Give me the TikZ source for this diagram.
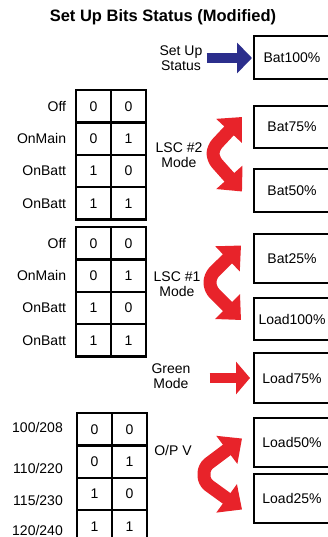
\documentclass[tikz,border=0pt]{standalone}
\usepackage{fontspec}
\setmainfont{Liberation Sans}
\usetikzlibrary{positioning,arrows.meta}
\definecolor{arrowred}{HTML}{E8232A}
\definecolor{arrowblue}{HTML}{2B2E8C}
\tikzset{
  txt/.style={font=\fontsize{14}{15}\selectfont, align=center, inner sep=1pt},
  statebox/.style={draw, line width=2pt, minimum width=76pt, minimum height=43pt, inner sep=0pt, font=\fontsize{14}{15}\selectfont},
  cell/.style={draw, line width=2.5pt, minimum width=35pt, minimum height=32.4pt, inner sep=0pt, font=\fontsize{14}{15}\selectfont},
  rowlbl/.style={txt, anchor=east},
  curlarrow/.style={draw=arrowred, line width=13pt, line join=round, rounded corners=6pt, {Triangle[width=34pt,length=19pt]}-{Triangle[width=34pt,length=19pt]}},
  straightred/.style={draw=arrowred, line width=10pt, -{Triangle[width=32pt,length=14pt]}},
  straightblue/.style={draw=arrowblue, line width=10pt, -{Triangle[width=30pt,length=15pt]}}
}
\begin{document}
\begin{tikzpicture}[x=1pt,y=-1pt]
  \useasboundingbox (0,0) rectangle (327,537);
  \node[font=\fontsize{16.5}{18}\selectfont\bfseries] (title) at (163,17) {Set Up Bits Status (Modified)};

  % status boxes
  \node[statebox] (bat100) at (292,58) {Bat100\%};
  \node[statebox, minimum height=42pt] (bat75) at (292,127) {Bat75\%};
  \node[statebox] (bat50) at (292,190.5) {Bat50\%};
  \node[statebox, minimum height=49pt] (bat25) at (292,258.5) {Bat25\%};
  \node[statebox, minimum height=42pt] (load100) at (292,319) {Load100\%};
  \node[statebox, minimum height=50pt] (load75) at (292,378) {Load75\%};
  \node[statebox, minimum height=49pt] (load50) at (292,442.5) {Load50\%};
  \node[statebox, minimum height=49pt] (load25) at (292,498.5) {Load25\%};

  % bit tables
  \foreach \tb/\ty/\tx in {1/90/76, 2/227/76, 3/413/77} {
    \foreach \r/\u/\v in {1/0/0, 2/0/1, 3/1/0, 4/1/1} {
      \node[cell] (t\tb r\r a) at (\tx+17.5, \ty+32.4*\r-16.2) {\u};
      \node[cell] (t\tb r\r b) at (\tx+52.5, \ty+32.4*\r-16.2) {\v};
    }
  }
  \node[rowlbl, left=7.5pt of t1r1a] (off1) {Off};
  \node[rowlbl, left=7.5pt of t1r2a] (onmain1) {OnMain};
  \node[rowlbl, left=7.5pt of t1r3a] (onbatt1) {OnBatt};
  \node[rowlbl, left=7.5pt of t1r4a] (onbatt1b) {OnBatt};
  \node[rowlbl, left=7.5pt of t2r1a] (off2) {Off};
  \node[rowlbl, left=7.5pt of t2r2a] (onmain2) {OnMain};
  \node[rowlbl, left=7.5pt of t2r3a] (onbatt2) {OnBatt};
  \node[rowlbl, left=7.5pt of t2r4a] (onbatt2b) {OnBatt};
  \node[rowlbl] (v208) at (64,427) {100/208};
  \node[rowlbl] (v220) at (64,468) {110/220};
  \node[rowlbl] (v230) at (64,500) {115/230};
  \node[rowlbl] (v240) at (64,530) {120/240};

  % mode labels
  \node[txt] (setup) at (181,58) {Set Up\\Status};
  \node[txt] (lsc2) at (179,155) {LSC \#2\\Mode};
  \node[txt] (lsc1) at (177,284) {LSC \#1\\Mode};
  \node[txt] (green) at (171,376) {Green\\Mode};
  \node[txt] (opv) at (173,450) {O/P V};

  % arrows
  \draw[straightblue, shorten >=1pt] ([xshift=3pt]setup.east) -- (bat100.west);
  \draw[straightred, shorten >=3pt] ([xshift=18pt]green.east |- load75.west) -- (load75.west);
  \draw[curlarrow] ([xshift=-11pt,yshift=10pt]bat75.west) -- (213,148) -- (213,159) -- ([xshift=-11pt,yshift=-1pt]bat50.west);
  \draw[curlarrow] ([xshift=-12pt,yshift=13pt]bat25.west) -- (210,276) -- (210,289) -- ([xshift=-12pt,yshift=-1pt]load100.west);
  \draw[curlarrow] ([xshift=-11pt,yshift=4pt]load50.west) -- (204,467) -- (204,482) -- ([xshift=-11pt,yshift=-11pt]load25.west);
\end{tikzpicture}
\end{document}
